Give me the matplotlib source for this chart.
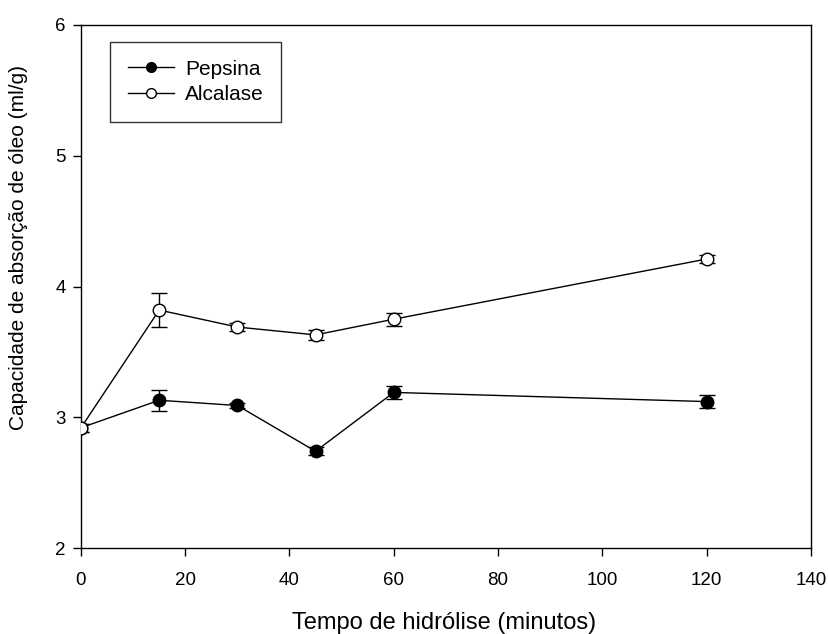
import matplotlib
matplotlib.use("Agg")
import matplotlib.pyplot as plt
from matplotlib.lines import Line2D

plt.rcParams['font.family'] = ['Liberation Sans', 'DejaVu Sans']

tempo = [0, 15, 30, 45, 60, 120]
pepsina = [2.92, 3.13, 3.09, 2.74, 3.19, 3.12]
pepsina_err = [0.03, 0.08, 0.02, 0.03, 0.05, 0.05]
alcalase = [2.92, 3.82, 3.69, 3.63, 3.75, 4.21]
alcalase_err = [0.03, 0.13, 0.03, 0.04, 0.05, 0.03]

fig = plt.figure(figsize=(8.29, 6.34), dpi=100)
ax = fig.add_axes([0.0977, 0.1356, 0.8803, 0.825])

ax.errorbar(tempo, pepsina, yerr=pepsina_err, fmt='-o', color='black', lw=1.0,
            mfc='black', mec='black', ms=9, capsize=6, elinewidth=1, capthick=1,
            label='Pepsina', zorder=3)
ax.errorbar(tempo, alcalase, yerr=alcalase_err, fmt='-o', color='black', lw=1.0,
            mfc='white', mec='black', ms=9, capsize=6, elinewidth=1, capthick=1,
            label='Alcalase', zorder=3)

ax.set_xlim(0, 140)
ax.set_ylim(2, 6)
ax.set_xticks(range(0, 141, 20))
ax.set_yticks([2, 3, 4, 5, 6])
ax.tick_params(direction='out', length=6, width=1, labelsize=13.5, top=False, right=False)
ax.tick_params(axis='x', pad=11)
ax.tick_params(axis='y', pad=5)
for s in ax.spines.values():
    s.set_linewidth(1)

ax.set_xlabel('Tempo de hidrólise (minutos)', fontsize=17)
ax.xaxis.set_label_coords(0.497, -0.123)
ax.set_ylabel('Capacidade de absorção de óleo (ml/g)', fontsize=15)
ax.yaxis.set_label_coords(-0.073, 0.575)

h = [Line2D([], [], color='black', lw=1, marker='o', ms=7, mfc='black', mec='black'),
     Line2D([], [], color='black', lw=1, marker='o', ms=7, mfc='white', mec='black')]
leg = ax.legend(h, ['Pepsina', 'Alcalase'], loc='upper left', bbox_to_anchor=(0.0397, 0.9675),
                borderaxespad=0, frameon=True, fancybox=False, edgecolor='black', fontsize=15,
                handlelength=2.2, handletextpad=0.55, borderpad=0.85, labelspacing=0.3)
leg.get_frame().set_linewidth(1)

fig.savefig('out.png', dpi=100)
